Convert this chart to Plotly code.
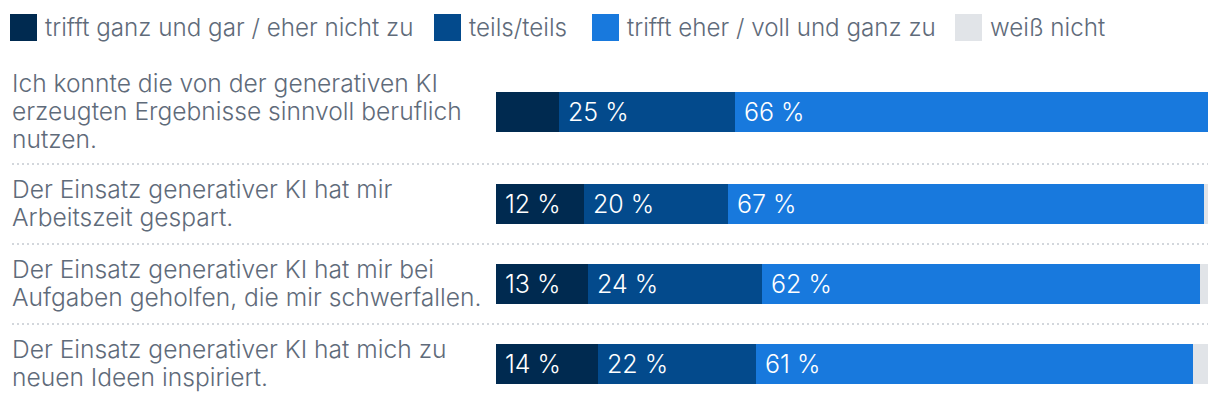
import plotly.graph_objects as go

# page body has an 8px margin; the figure is sized/positioned to compensate
OFF = 8
W, H = 1220 - OFF, 404 - OFF

# ---- data ----
categories = [
    "trifft ganz und gar / eher nicht zu",
    "teils/teils",
    "trifft eher / voll und ganz zu",
    "weiß nicht",
]
statements = [
    ["Ich konnte die von der generativen KI", "erzeugten Ergebnisse sinnvoll beruflich", "nutzen."],
    ["Der Einsatz generativer KI hat mir", "Arbeitszeit gespart."],
    ["Der Einsatz generativer KI hat mir bei", "Aufgaben geholfen, die mir schwerfallen."],
    ["Der Einsatz generativer KI hat mich zu", "neuen Ideen inspiriert."],
]
disagree = [8.8, 12.4, 12.9, 14.3]
neutral = [24.8, 20.2, 24.4, 22.2]
agree = [66.4, 66.8, 61.6, 61.4]
dont_know = [0.0, 0.6, 1.1, 2.1]

series = [disagree, neutral, agree, dont_know]
colors = ["#002a50", "#034a8c", "#1879dd", "#e1e4e8"]
labelled = [True, True, True, False]

FONT = "Inter"
TEXT_COL = "#5f6b7a"


def px_x(p):
    return (p - OFF) / W


def px_y(p):
    return 1 - (p - OFF) / H


# ---- layout geometry (page pixels) ----
top_px = 60
line_h = 27.5
row_heights = [24 * len(s) + 32 for s in statements]
total = sum(row_heights)
centers, bounds = [], []
acc = 0
for h in row_heights:
    centers.append(acc + h / 2)
    acc += h
    bounds.append(acc)

x0_px, x1_px = 496, 1208

fig = go.Figure()
for vals, col, name in zip(series, colors, categories):
    fig.add_trace(go.Bar(
        x=vals, y=centers, orientation="h", width=40,
        marker=dict(color=col, line=dict(width=0)),
        name=name, showlegend=False, hoverinfo="skip",
    ))

annotations = []
shapes = []
# bar value labels
for r in range(len(statements)):
    start = 0.0
    for s, vals in enumerate(series):
        v = vals[r]
        if labelled[s] and v >= 10:
            annotations.append(dict(
                x=start, y=centers[r], xref="x", yref="y", xshift=7,
                xanchor="left", yanchor="middle", showarrow=False,
                text=f"{round(v)} %",
                font=dict(family=FONT, size=25, color="white", weight=300),
            ))
        start += v

# statement labels
for r, lines in enumerate(statements):
    n = len(lines)
    for i, ln in enumerate(lines):
        yy = centers[r] + (i - (n - 1) / 2) * line_h - 1
        annotations.append(dict(
            x=px_x(10), y=yy, xref="paper", yref="y",
            xanchor="left", yanchor="middle", showarrow=False,
            text=ln, font=dict(family=FONT, size=24.6, color=TEXT_COL, weight=300),
        ))

# separators
for b in bounds[:-1]:
    shapes.append(dict(
        type="line", xref="paper", yref="y", x0=px_x(12), x1=px_x(x1_px), y0=b, y1=b,
        line=dict(color="#d3d7dc", width=2, dash="2px,3px"),
    ))

# custom legend
leg_x = [10, 434, 592, 955]
sw = 27
for lx, col, name in zip(leg_x, colors, categories):
    shapes.append(dict(
        type="rect", xref="paper", yref="paper",
        x0=px_x(lx), x1=px_x(lx + sw), y0=px_y(41), y1=px_y(14),
        fillcolor=col, line=dict(width=0),
    ))
    annotations.append(dict(
        x=px_x(lx + sw + 6), y=px_y(27.5), xref="paper", yref="paper",
        xanchor="left", yanchor="middle", showarrow=False,
        text=name, font=dict(family=FONT, size=24.2, color=TEXT_COL, weight=300),
    ))

fig.update_layout(
    width=W, height=H, barmode="stack",
    margin=dict(l=0, r=0, t=0, b=0),
    paper_bgcolor="white", plot_bgcolor="white",
    xaxis=dict(domain=[px_x(x0_px), px_x(x1_px)], range=[0, 100], visible=False, fixedrange=True),
    yaxis=dict(domain=[0, px_y(top_px)], range=[total, 0], visible=False, fixedrange=True),
    annotations=annotations, shapes=shapes,
    bargap=0,
)

fig.write_html("out.html", config={"displayModeBar": False})
